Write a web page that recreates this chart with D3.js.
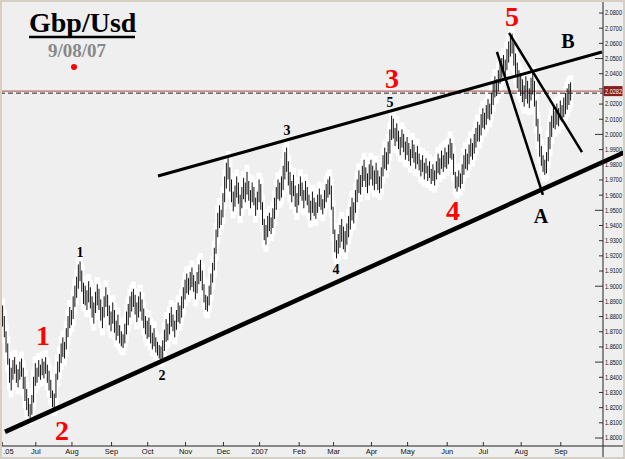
<!DOCTYPE html>
<html>
<head>
<meta charset="utf-8">
<style>
    body { margin: 0; background: #fff; }
    svg { display: block; }
    .axis text { font-family: "Liberation Sans", Arial, sans-serif; font-size: 7.5px; fill: #111; }
    .serif { font-family: "Liberation Serif", "Times New Roman", serif; font-weight: bold; }
</style>
</head>
<body>
<svg id="chart" width="625" height="459"></svg>

<script src="https://d3js.org/d3.v7.min.js"></script>
<script>
// trading-day index of the first bar (0 = 1 Jun 2006)
let firstIndex = 3

// daily highs / lows, one per trading day
let highs = [
    1.887,1.880,1.870,1.862,1.852,1.846,1.851,1.853,1.848,1.845,
    1.850,1.852,1.846,1.840,1.832,1.826,1.822,1.828,1.840,1.849,
    1.846,1.851,1.848,1.852,1.850,1.853,1.848,1.844,1.838,1.831,
    1.829,1.842,1.850,1.855,1.862,1.866,1.863,1.872,1.880,1.886,
    1.884,1.893,1.900,1.906,1.914,1.916,1.910,1.902,1.900,1.897,
    1.903,1.899,1.893,1.889,1.896,1.901,1.898,1.891,1.886,1.893,
    1.899,1.894,1.887,1.883,1.889,1.884,1.877,1.881,1.874,1.870,
    1.868,1.875,1.883,1.888,1.893,1.896,1.898,1.894,1.889,1.893,
    1.896,1.891,1.885,1.880,1.877,1.879,1.874,1.869,1.872,1.866,
    1.863,1.861,1.860,1.864,1.871,1.878,1.875,1.882,1.886,1.881,
    1.877,1.884,1.889,1.887,1.893,1.899,1.904,1.908,1.905,1.909,
    1.912,1.907,1.903,1.909,1.914,1.917,1.910,1.901,1.894,1.893,
    1.900,1.908,1.915,1.925,1.937,1.948,1.953,1.950,1.961,1.972,
    1.981,1.984,1.978,1.970,1.962,1.966,1.972,1.968,1.960,1.965,
    1.971,1.968,1.975,1.969,1.963,1.968,1.965,1.958,1.962,1.970,
    1.967,1.955,1.944,1.940,1.946,1.948,1.945,1.951,1.958,1.965,
    1.970,1.968,1.972,1.979,1.988,1.991,1.982,1.975,1.969,1.973,
    1.966,1.961,1.967,1.972,1.968,1.963,1.969,1.965,1.960,1.956,
    1.962,1.958,1.955,1.960,1.964,1.960,1.957,1.963,1.967,1.970,
    1.972,1.966,1.952,1.937,1.930,1.934,1.940,1.944,1.939,1.936,
    1.941,1.946,1.952,1.958,1.955,1.963,1.970,1.976,1.973,1.979,
    1.983,1.978,1.974,1.980,1.983,1.979,1.976,1.981,1.976,1.972,
    1.978,1.986,1.991,1.988,1.995,2.003,2.012,2.010,2.004,2.007,
    2.002,1.998,2.003,2.000,1.995,1.998,1.994,1.990,1.996,1.993,
    1.988,1.992,1.987,1.983,1.986,1.981,1.984,1.979,1.982,1.977,
    1.980,1.976,1.982,1.987,1.984,1.989,1.986,1.991,1.988,1.993,
    1.997,1.994,1.987,1.975,1.972,1.976,1.974,1.980,1.986,1.990,
    1.987,1.993,1.997,1.994,2.000,2.004,2.008,2.006,2.013,2.017,
    2.014,2.019,2.023,2.020,2.027,2.033,2.038,2.036,2.042,2.047,
    2.050,2.052,2.049,2.056,2.061,2.064,2.066,2.060,2.053,2.047,
    2.042,2.040,2.036,2.032,2.038,2.035,2.030,2.037,2.041,2.035,
    2.022,2.010,2.000,1.992,1.986,1.983,1.988,1.998,2.008,2.012,
    2.018,2.015,2.020,2.017,2.022,2.019,2.024,2.027,2.030,2.033,2.034
]
let lows = [
    1.873,1.866,1.856,1.848,1.836,1.831,1.838,1.842,1.836,1.833,
    1.838,1.840,1.832,1.824,1.818,1.814,1.813,1.815,1.823,1.834,
    1.836,1.840,1.838,1.841,1.839,1.842,1.836,1.831,1.826,1.820,
    1.819,1.826,1.838,1.843,1.849,1.853,1.852,1.858,1.866,1.872,
    1.874,1.878,1.886,1.892,1.898,1.903,1.896,1.888,1.887,1.884,
    1.889,1.885,1.879,1.875,1.882,1.887,1.884,1.877,1.872,1.879,
    1.886,1.880,1.874,1.870,1.875,1.869,1.864,1.867,1.862,1.860,
    1.859,1.862,1.868,1.874,1.879,1.883,1.886,1.881,1.876,1.879,
    1.883,1.877,1.872,1.868,1.865,1.866,1.862,1.858,1.860,1.856,
    1.854,1.852,1.851,1.852,1.857,1.863,1.864,1.868,1.873,1.870,
    1.866,1.871,1.876,1.875,1.879,1.885,1.891,1.895,1.894,1.897,
    1.899,1.896,1.891,1.895,1.901,1.903,1.897,1.889,1.884,1.883,
    1.887,1.894,1.902,1.910,1.921,1.932,1.938,1.940,1.945,1.955,
    1.964,1.970,1.962,1.955,1.949,1.952,1.958,1.954,1.946,1.951,
    1.957,1.955,1.960,1.956,1.951,1.955,1.953,1.946,1.950,1.955,
    1.950,1.940,1.930,1.927,1.932,1.936,1.934,1.938,1.944,1.950,
    1.957,1.956,1.958,1.963,1.970,1.975,1.966,1.960,1.955,1.959,
    1.952,1.948,1.953,1.959,1.956,1.951,1.956,1.953,1.948,1.943,
    1.948,1.946,1.944,1.948,1.952,1.950,1.947,1.951,1.955,1.958,
    1.960,1.950,1.934,1.922,1.918,1.921,1.925,1.929,1.924,1.922,
    1.927,1.932,1.937,1.943,1.941,1.948,1.955,1.961,1.960,1.965,
    1.969,1.965,1.961,1.966,1.970,1.966,1.963,1.967,1.963,1.961,
    1.964,1.972,1.977,1.976,1.980,1.987,1.996,1.997,1.992,1.995,
    1.990,1.986,1.991,1.988,1.983,1.986,1.982,1.979,1.984,1.981,
    1.977,1.980,1.976,1.972,1.975,1.970,1.974,1.969,1.971,1.967,
    1.969,1.966,1.970,1.974,1.973,1.977,1.975,1.978,1.977,1.980,
    1.984,1.983,1.973,1.964,1.962,1.965,1.964,1.967,1.973,1.977,
    1.976,1.980,1.985,1.983,1.987,1.991,1.995,1.995,1.999,2.004,
    2.003,2.006,2.010,2.009,2.013,2.019,2.024,2.025,2.028,2.033,
    2.037,2.040,2.038,2.042,2.047,2.051,2.053,2.045,2.038,2.030,
    2.028,2.025,2.021,2.018,2.023,2.020,2.017,2.022,2.026,2.018,
    2.005,1.995,1.985,1.979,1.975,1.973,1.974,1.982,1.990,1.998,
    2.004,2.003,2.006,2.005,2.009,2.008,2.011,2.013,2.016,2.019,2.022
]

let lastPrice = 2.0282

// month ticks (trading-day index) and their labels
let monthIdx = [2.5, 22, 43, 66, 87, 109, 131, 152, 175, 195, 217, 238, 261, 282, 304, 327]
let monthLabels = [".05", "Jul", "Aug", "Sep", "Oct", "Nov", "Dec", "2007", "Feb", "Mar", "Apr", "May", "Jun", "Jul", "Aug", "Sep"]

// price ticks
let priceTicks = d3.range(0, 29).map(k => +(1.80 + k * 0.01).toFixed(2))

// hand drawn trend lines, [index, price] end points
let lowerLine = [[4.4, 1.8037], [364.6, 1.9881]]
let upperLine = [[93.3, 1.9723], [351.2, 2.0540]]
let steepLine = [[290.2, 2.0540], [316.9, 1.9598]]
let fallLine = [[297.2, 2.0665], [339.6, 1.9880]]

// wave counts, placed at [index, price] (text baseline)
let redWaves = [["1", 26.5, 1.861], ["2", 37.5, 1.7984], ["3", 229.2, 2.0303], ["4", 264.7, 1.9433], ["5", 298.9, 2.0711]]
let blackWaves = [["1", 48, 1.9189], ["2", 95.6, 1.8379], ["3", 168.2, 1.9993], ["4", 196.7, 1.9077], ["5", 228, 2.0177]]
let letters = [["A", 315.8, 1.9413], ["B", 331.5, 2.0566]]

let svg = d3.select("#chart")
let width = 625, height = 459
let axisX = 603, axisY = 446

svg.append("rect")
    .attr("width", width).attr("height", height)
    .attr("fill", "#efefef")

let xScale = d3.scaleLinear().domain([22, 327]).range([35.3, 560.3])
let yScale = d3.scaleLinear().domain([1.80, 2.08]).range([437.5, 12.5])

let bars = highs.map((h, k) => ({ i: firstIndex + k, high: h, low: lows[k] }))

// white backing behind the bars
svg.append("g").selectAll("rect")
    .data(bars)
    .join("rect")
    .attr("x", d => xScale(d.i) - 2.5)
    .attr("width", 5)
    .attr("y", d => yScale(d.high) - 7)
    .attr("height", d => yScale(d.low) - yScale(d.high) + 14)
    .attr("fill", "#fff")

// last price line (solid red + dashed black)
svg.append("line")
    .attr("x1", 0).attr("x2", axisX)
    .attr("y1", yScale(lastPrice)).attr("y2", yScale(lastPrice))
    .attr("stroke", "#b86a6a").attr("stroke-width", 1.2)
svg.append("line")
    .attr("x1", 0).attr("x2", axisX)
    .attr("y1", yScale(lastPrice) + 2).attr("y2", yScale(lastPrice) + 2)
    .attr("stroke", "#222").attr("stroke-width", 1)
    .attr("stroke-dasharray", "5,3")

// price bars
svg.append("g").selectAll("line")
    .data(bars)
    .join("line")
    .attr("x1", d => xScale(d.i)).attr("x2", d => xScale(d.i))
    .attr("y1", d => yScale(d.high)).attr("y2", d => yScale(d.low))
    .attr("stroke", "#111")
    .attr("stroke-width", 1)

// trend lines
let trend = d3.line().x(d => xScale(d[0])).y(d => yScale(d[1]))
let lines = [[lowerLine, 4.5], [upperLine, 3], [steepLine, 2.5], [fallLine, 2.5]]
svg.append("g").selectAll("path")
    .data(lines)
    .join("path")
    .attr("d", d => trend(d[0]))
    .attr("stroke", "#000")
    .attr("stroke-width", d => d[1])
    .attr("fill", "none")

// right price axis
let yAxis = svg.append("g")
    .attr("class", "axis")
    .attr("transform", "translate(" + axisX + ",0)")
    .call(d3.axisRight(yScale).tickValues(priceTicks).tickSizeInner(-4).tickSizeOuter(0)
        .tickPadding(2).tickFormat(d3.format(".4f")))
yAxis.select(".domain").remove()
yAxis.selectAll(".tick line")
    .attr("stroke", "#333")
    .attr("x2", d => Math.abs(d * 20 - Math.round(d * 20)) < 1e-6 ? -8 : -4)
yAxis.selectAll(".tick text")
    .attr("textLength", 17)
    .attr("lengthAdjust", "spacingAndGlyphs")

// bottom month axis
let xAxis = svg.append("g")
    .attr("class", "axis")
    .attr("transform", "translate(0," + axisY + ")")
    .call(d3.axisBottom(xScale).tickValues(monthIdx).tickSizeInner(-4).tickSizeOuter(0)
        .tickPadding(3).tickFormat((d, k) => monthLabels[k]))
xAxis.select(".domain").remove()
xAxis.selectAll(".tick line").attr("stroke", "#333")
xAxis.selectAll(".tick text")
    .filter((d, k) => k === 0)
    .attr("text-anchor", "start")
    .attr("dx", 1)

// axis lines
svg.append("line")
    .attr("x1", 0).attr("x2", width).attr("y1", axisY).attr("y2", axisY)
    .attr("stroke", "#222")
svg.append("line")
    .attr("x1", axisX).attr("x2", axisX).attr("y1", 0).attr("y2", height)
    .attr("stroke", "#222")

// last price flag
svg.append("rect")
    .attr("x", axisX + 0.5).attr("y", yScale(lastPrice) - 5)
    .attr("width", width - axisX - 3).attr("height", 10)
    .attr("fill", "#8a1d1d")
svg.append("text")
    .attr("x", axisX + 2).attr("y", yScale(lastPrice) + 3)
    .attr("font-family", "Liberation Sans, Arial, sans-serif")
    .attr("font-size", 7.5)
    .attr("textLength", 17)
    .attr("lengthAdjust", "spacingAndGlyphs")
    .attr("fill", "#fff")
    .text(d3.format(".4f")(lastPrice))

// wave labels
svg.append("g").selectAll("text")
    .data(redWaves)
    .join("text")
    .attr("class", "serif")
    .attr("x", d => xScale(d[1])).attr("y", d => yScale(d[2]))
    .attr("text-anchor", "middle")
    .attr("font-size", 28)
    .attr("fill", "#f00")
    .text(d => d[0])
svg.append("g").selectAll("text")
    .data(blackWaves)
    .join("text")
    .attr("class", "serif")
    .attr("x", d => xScale(d[1])).attr("y", d => yScale(d[2]))
    .attr("text-anchor", "middle")
    .attr("font-size", 14)
    .attr("fill", "#000")
    .text(d => d[0])
svg.append("g").selectAll("text")
    .data(letters)
    .join("text")
    .attr("class", "serif")
    .attr("x", d => xScale(d[1])).attr("y", d => yScale(d[2]))
    .attr("text-anchor", "middle")
    .attr("font-size", 20)
    .attr("fill", "#000")
    .text(d => d[0])

// title block
svg.append("text")
    .attr("class", "serif")
    .attr("x", 29).attr("y", 32)
    .attr("font-size", 28)
    .text("Gbp/Usd")
svg.append("line")
    .attr("x1", 29).attr("x2", 135).attr("y1", 37).attr("y2", 37)
    .attr("stroke", "#000").attr("stroke-width", 2.5)
svg.append("text")
    .attr("class", "serif")
    .attr("x", 48).attr("y", 57)
    .attr("font-size", 19)
    .attr("fill", "#888")
    .text("9/08/07")
svg.append("circle")
    .attr("cx", 74).attr("cy", 67).attr("r", 3)
    .attr("fill", "#f00")

// frame
svg.append("rect")
    .attr("x", 1).attr("y", 1).attr("width", width - 2).attr("height", height - 2)
    .attr("fill", "none").attr("stroke", "#d6cfc2").attr("stroke-width", 2)
</script>
</body>
</html>
